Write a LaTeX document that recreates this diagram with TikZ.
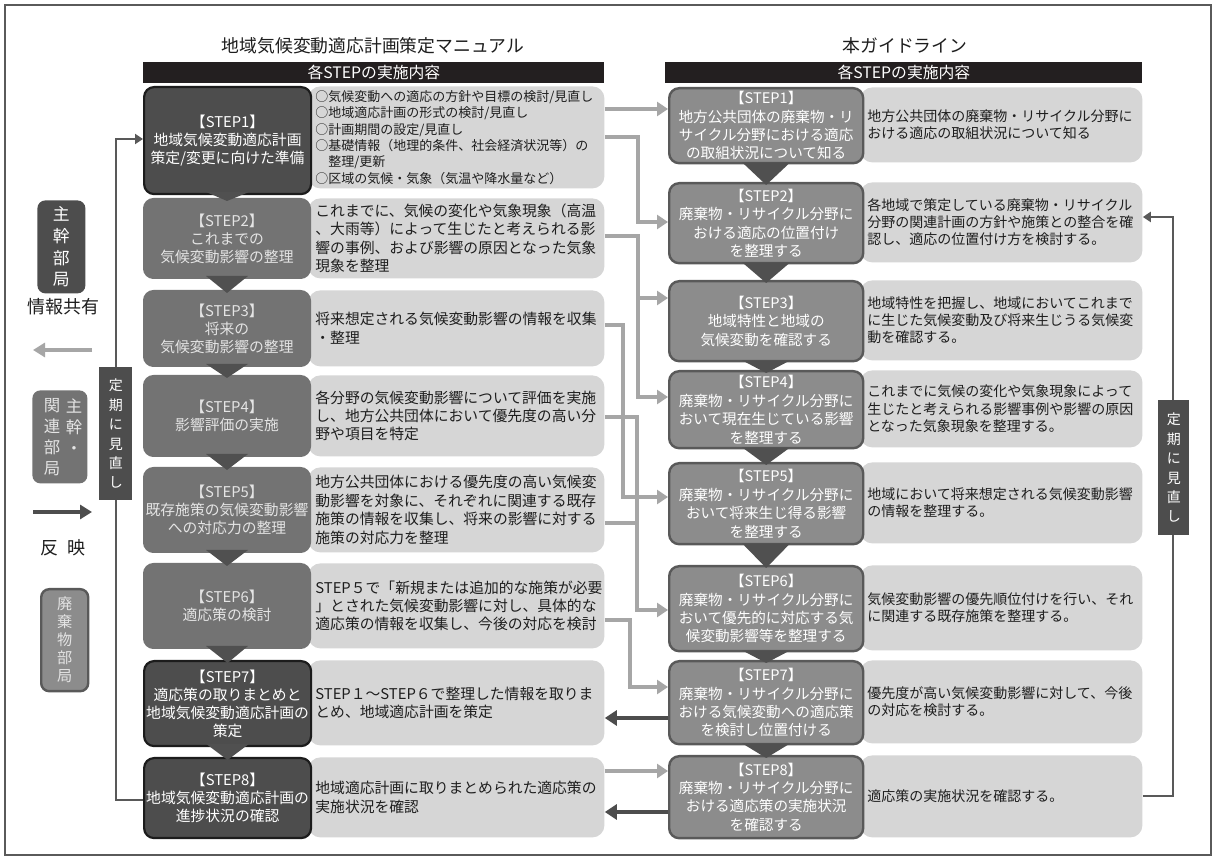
\documentclass[tikz,border=0pt]{standalone}
\usepackage{fontspec}
\setmainfont{Noto Sans CJK JP}
\usetikzlibrary{arrows.meta,calc}
\definecolor{cframe}{RGB}{90,90,90}
\definecolor{cbar}{RGB}{35,31,32}
\definecolor{cdark}{RGB}{77,77,77}
\definecolor{cdarkb}{RGB}{28,28,28}
\definecolor{cmid}{RGB}{115,115,115}
\definecolor{cright}{RGB}{140,140,140}
\definecolor{crightb}{RGB}{89,89,89}
\definecolor{cdesc}{RGB}{214,214,214}
\definecolor{ctext}{RGB}{30,30,30}
\definecolor{clight}{RGB}{166,166,166}
\definecolor{ctri}{RGB}{80,80,80}
\definecolor{cpale}{RGB}{228,228,228}
\begin{document}
\begin{tikzpicture}[x=0.5pt,y=-0.5pt,
  ttl/.style={font=\fontsize{8.9}{10}\selectfont, text=ctext, inner sep=0pt},
  hbar/.style={rectangle, anchor=north west, fill=cbar, text=white, minimum height=10.5pt, inner sep=0pt, font=\fontsize{7.9}{9}\selectfont},
  lstep/.style={rectangle, rounded corners=5pt, anchor=north west, minimum width=83.5pt, align=center, font=\fontsize{7.4}{9}\selectfont, inner sep=1pt},
  ldark/.style={lstep, fill=cdark, draw=cdarkb, line width=1.1pt, text=white},
  lmid/.style={lstep, fill=cmid, draw=cmid, line width=0.5pt, text=cpale},
  rstep/.style={rectangle, rounded corners=5pt, anchor=north west, minimum width=97pt, align=center, fill=cright, draw=crightb, line width=1.2pt, text=white, font=\fontsize{7.3}{9.2}\selectfont, inner sep=1pt},
  ldesc/.style={rectangle, rounded corners=6pt, anchor=north west, fill=cdesc, text=ctext, align=left, text width=141pt, inner xsep=3.5pt, inner ysep=0pt, font=\fontsize{7.4}{9.2}\selectfont},
  rdesc/.style={rectangle, rounded corners=6pt, anchor=north west, fill=cdesc, text=ctext, align=left, text width=134pt, inner xsep=3.5pt, inner ysep=0pt, font=\fontsize{7}{8.6}\selectfont},
  arrl/.style={draw=clight, line width=1.8pt, -{Triangle[length=5.5pt,width=7pt]}},
  lnl/.style={draw=clight, line width=1.8pt},
  arrd/.style={draw=cdark, line width=2.2pt, -{Triangle[length=6pt,width=7.5pt]}},
  fbarr/.style={draw=crightb, line width=1.3pt, -{Triangle[length=4pt,width=5pt]}},
  fbox/.style={rectangle, anchor=north west, fill=cdark, text=white, align=center, inner sep=0pt, font=\fontsize{7}{9.7}\selectfont},
  lgbox/.style={rectangle, rounded corners=4pt, anchor=north west, align=center, inner sep=0pt},
  vtxt/.style={align=center, inner sep=0pt, font=\fontsize{8.2}{10.5}\selectfont},
  lgtext/.style={font=\fontsize{9}{10}\selectfont, text=ctext, inner sep=0pt}
]
\useasboundingbox (0,0) rectangle (1217,860);
\fill[white] (0,0) rectangle (1217,860);
\draw[cframe, line width=0.8pt] (5,5) rectangle (1211,855);

% titles and header bars
\node[ttl] (tL) at (373,46) {地域気候変動適応計画策定マニュアル};
\node[ttl] (tR) at (905,46) {本ガイドライン};
\node[hbar, minimum width=230.5pt] (hL) at (143,62) {各STEPの実施内容};
\node[hbar, minimum width=238.5pt] (hR) at (665,62) {各STEPの実施内容};

% left descriptions
\node[ldesc, minimum height=51pt, font=\fontsize{6.5}{8.2}\selectfont] (L1d) at (308,86) {○気候変動への適応の方針や目標の検討/見直し\\○地域適応計画の形式の検討/見直し\\○計画期間の設定/見直し\\○基礎情報（地理的条件、社会経済状況等）の\\\hspace*{1em}整理/更新\\○区域の気候・気象（気温や降水量など）};
\node[ldesc, minimum height=40pt] (L2d) at (308,198) {これまでに、気候の変化や気象現象（高温\\、大雨等）によって生じたと考えられる影\\響の事例、および影響の原因となった気象\\現象を整理};
\node[ldesc, minimum height=38pt] (L3d) at (308,290) {将来想定される気候変動影響の情報を収集\\・整理};
\node[ldesc, minimum height=40.5pt] (L4d) at (308,375) {各分野の気候変動影響について評価を実施\\し、地方公共団体において優先度の高い分\\野や項目を特定};
\node[ldesc, minimum height=42.5pt] (L5d) at (308,467) {地方公共団体における優先度の高い気候変\\動影響を対象に、それぞれに関連する既存\\施策の情報を収集し、将来の影響に対する\\施策の対応力を整理};
\node[ldesc, minimum height=42.5pt] (L6d) at (308,563) {STEP５で「新規または追加的な施策が必要\\」とされた気候変動影響に対し、具体的な\\適応策の情報を収集し、今後の対応を検討};
\node[ldesc, minimum height=42.5pt] (L7d) at (308,660) {STEP１～STEP６で整理した情報を取りま\\とめ、地域適応計画を策定};
\node[ldesc, minimum height=40pt] (L8d) at (308,757) {地域適応計画に取りまとめられた適応策の\\実施状況を確認};

% left steps
\node[ldark, minimum height=53.5pt] (L1) at (143,86) {【STEP1】\\地域気候変動適応計画\\策定/変更に向けた準備};
\node[lmid, minimum height=40pt] (L2) at (143,198) {【STEP2】\\これまでの\\気候変動影響の整理};
\node[lmid, minimum height=38pt] (L3) at (143,290) {【STEP3】\\将来の\\気候変動影響の整理};
\node[lmid, minimum height=40.5pt] (L4) at (143,375) {【STEP4】\\影響評価の実施};
\node[lmid, minimum height=42.5pt] (L5) at (143,467) {【STEP5】\\既存施策の気候変動影響\\への対応力の整理};
\node[lmid, minimum height=42.5pt] (L6) at (143,563) {【STEP6】\\適応策の検討};
\node[ldark, minimum height=42.5pt] (L7) at (143,660) {【STEP7】\\適応策の取りまとめと\\地域気候変動適応計画の\\策定};
\node[ldark, minimum height=40pt] (L8) at (143,757) {【STEP8】\\地域気候変動適応計画の\\進捗状況の確認};

\foreach \a/\b in {L1/L2,L2/L3,L3/L4,L4/L5,L5/L6,L6/L7,L7/L8}
  \fill[ctri] ($(\a.south)+(-21,-3)$) -- ($(\a.south)+(21,-3)$) -- ($(\b.north)+(0,3)$) -- cycle;

% right descriptions
\node[rdesc, minimum height=37.5pt] (R1d) at (860,87) {地方公共団体の廃棄物・リサイクル分野に\\おける適応の取組状況について知る};
\node[rdesc, minimum height=40pt] (R2d) at (860,182) {各地域で策定している廃棄物・リサイクル\\分野の関連計画の方針や施策との整合を確\\認し、適応の位置付け方を検討する。};
\node[rdesc, minimum height=40pt] (R3d) at (860,280) {地域特性を把握し、地域においてこれまで\\に生じた気候変動及び将来生じうる気候変\\動を確認する。};
\node[rdesc, minimum height=38.5pt] (R4d) at (860,370) {これまでに気候の変化や気象現象によって\\生じたと考えられる影響事例や影響の原因\\となった気象現象を整理する。};
\node[rdesc, minimum height=40.5pt] (R5d) at (860,462) {地域において将来想定される気候変動影響\\の情報を整理する。};
\node[rdesc, minimum height=42.5pt] (R6d) at (860,565) {気候変動影響の優先順位付けを行い、それ\\に関連する既存施策を整理する。};
\node[rdesc, minimum height=41.5pt] (R7d) at (860,660) {優先度が高い気候変動影響に対して、今後\\の対応を検討する。};
\node[rdesc, minimum height=41pt] (R8d) at (860,755) {適応策の実施状況を確認する。};

% right steps
\node[rstep, minimum height=37.5pt] (R1) at (668,87) {【STEP1】\\地方公共団体の廃棄物・リ\\サイクル分野における適応\\の取組状況について知る};
\node[rstep, minimum height=40pt] (R2) at (668,182) {【STEP2】\\廃棄物・リサイクル分野に\\おける適応の位置付け\\を整理する};
\node[rstep, minimum height=40pt] (R3) at (668,280) {【STEP3】\\地域特性と地域の\\気候変動を確認する};
\node[rstep, minimum height=38.5pt] (R4) at (668,370) {【STEP4】\\廃棄物・リサイクル分野に\\おいて現在生じている影響\\を整理する};
\node[rstep, minimum height=40.5pt] (R5) at (668,462) {【STEP5】\\廃棄物・リサイクル分野に\\おいて将来生じ得る影響\\を整理する};
\node[rstep, minimum height=42.5pt] (R6) at (668,565) {【STEP6】\\廃棄物・リサイクル分野に\\おいて優先的に対応する気\\候変動影響等を整理する};
\node[rstep, minimum height=41.5pt] (R7) at (668,660) {【STEP7】\\廃棄物・リサイクル分野に\\おける気候変動への適応策\\を検討し位置付ける};
\node[rstep, minimum height=41pt] (R8) at (668,755) {【STEP8】\\廃棄物・リサイクル分野に\\おける適応策の実施状況\\を確認する};

\foreach \a/\b in {R1/R2,R2/R3,R3/R4,R4/R5,R5/R6,R6/R7,R7/R8}
  \fill[ctri] ($(\a.south)+(-24,-2)$) -- ($(\a.south)+(24,-2)$) -- ($(\b.north)+(0,3)$) -- cycle;

% middle connectors
\draw[arrl] (L1d.east |- 0,109) -- (R1.west |- 0,109);
\draw[arrl] (L1d.east |- 0,137) -- (638,137) -- (638,222) -- (R2.west |- 0,222);
\draw[arrl] (L2d.east |- 0,236) -- (638,236) -- (638,397) -- (R4.west |- 0,397);
\draw[arrl] (638,298) -- (R3.west |- 0,298);
\draw[arrl] (L3d.east |- 0,325) -- (623,325) -- (623,497) -- (R5.west |- 0,497);
\draw[arrl] (L4d.east |- 0,417) -- (637,417) -- (637,610) -- (R6.west |- 0,610);
\draw[lnl] (L5d.east |- 0,523) -- (637,523);
\draw[arrl] (L6d.east |- 0,620) -- (630,620) -- (630,687) -- (R7.west |- 0,687);
\draw[arrd] (R7.west |- 0,718) -- (L7d.east |- 0,718);
\draw[arrl] (L8d.east |- 0,771) -- (R8.west |- 0,771);
\draw[arrd] (R8.west |- 0,812) -- (L8d.east |- 0,812);

% feedback loops
\draw[fbarr] (L8.west |- 0,800) -- (116,800) -- (116,139) -- (L1.west |- 0,139);
\draw[fbarr] (R8d.east |- 0,796) -- (1173,796) -- (1173,217) -- (R2d.east |- 0,217);
\node[fbox, minimum width=16.5pt, minimum height=66.5pt] (fbL) at (99,367) {定\\期\\に\\見\\直\\し};
\node[fbox, minimum width=15.5pt, minimum height=67.5pt] (fbR) at (1158,400) {定\\期\\に\\見\\直\\し};

% legend
\node[lgbox, fill=cdark, text=white, minimum width=24pt, minimum height=46.5pt, font=\fontsize{8.4}{10.8}\selectfont] (lg1) at (37,200) {主\\幹\\部\\局};
\node[lgtext] (lgt1) at (63,307) {情報共有};
\coordinate (la1) at (92,350);
\coordinate (la2) at (33,350);
\draw[draw=clight, line width=2.4pt, -{Triangle[length=6pt,width=7pt]}] (la1) -- (la2);
\node[lgbox, fill=cmid, minimum width=27.5pt, minimum height=46.5pt] (lg2) at (32,390) {};
\node[vtxt, anchor=north, text=cpale] (lg2a) at (74,398) {主\\幹\\・};
\node[vtxt, anchor=north, text=cpale] (lg2b) at (52,398) {関\\連\\部\\局};
\coordinate (lb1) at (33,512);
\coordinate (lb2) at (92,512);
\draw[draw=cdark, line width=2.4pt, -{Triangle[length=6pt,width=7pt]}] (lb1) -- (lb2);
\node[lgtext] (lgt2) at (63,548) {反\hspace{5pt}映};
\node[lgbox, fill=cright, draw=crightb, line width=1.2pt, text=cpale, minimum width=23.5pt, minimum height=51pt, font=\fontsize{7.6}{9}\selectfont] (lg3) at (40,588) {廃\\棄\\物\\部\\局};
\end{tikzpicture}
\end{document}
